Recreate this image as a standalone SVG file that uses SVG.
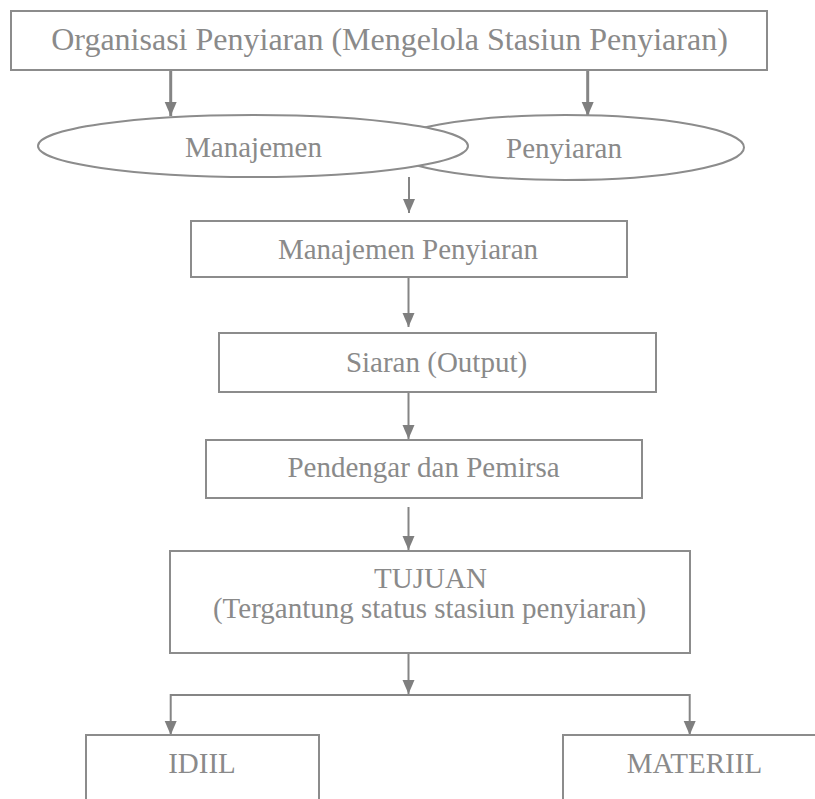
<svg xmlns="http://www.w3.org/2000/svg" width="815" height="799" viewBox="0 0 815 799">
<style>
.box{fill:#fff;stroke:#8c8c8c;stroke-width:2}
.ell{fill:#fff;stroke:#8c8c8c;stroke-width:2}
.t{font-family:"Liberation Serif","Times New Roman",serif;fill:#8a8a8a;text-anchor:middle;font-size:29px}
.c{stroke:#858585;stroke-width:2;fill:none}
</style>
<defs>
<marker id="ah" markerUnits="userSpaceOnUse" markerWidth="14" markerHeight="14" viewBox="0 0 14 14" refX="14" refY="7" orient="auto">
<path d="M0,1 L14,7 L0,13 Z" fill="#7f7f7f"/>
</marker>
</defs>
<rect width="815" height="799" fill="#fff"/>
<g id="connectors">
<line class="c" x1="170.7" y1="70" x2="170.7" y2="116" marker-end="url(#ah)" style="stroke-width:3"/>
<line class="c" x1="587.7" y1="70" x2="587.7" y2="116" marker-end="url(#ah)" style="stroke-width:3"/>
<line class="c" x1="409" y1="177" x2="409" y2="213" marker-end="url(#ah)"/>
<line class="c" x1="408.5" y1="273" x2="408.5" y2="327" marker-end="url(#ah)"/>
<line class="c" x1="408.5" y1="392" x2="408.5" y2="439" marker-end="url(#ah)"/>
<line class="c" x1="408.5" y1="507" x2="408.5" y2="550" marker-end="url(#ah)"/>
<line class="c" x1="408.5" y1="653" x2="408.5" y2="694" marker-end="url(#ah)"/>
<line class="c" x1="170.7" y1="695" x2="689.7" y2="695"/>
<line class="c" x1="170.7" y1="694" x2="170.7" y2="735" marker-end="url(#ah)"/>
<line class="c" x1="689.7" y1="694" x2="689.7" y2="735" marker-end="url(#ah)"/>
</g>
<g id="n-org">
<rect class="box" x="11" y="11" width="756" height="59"/>
<text class="t" x="389.5" y="50" style="font-size:32px">Organisasi Penyiaran (Mengelola Stasiun Penyiaran)</text>
</g>
<g id="n-penyiaran">
<ellipse class="ell" cx="565.5" cy="147.5" rx="178.5" ry="32.5"/>
<text class="t" x="564" y="158">Penyiaran</text>
</g>
<g id="n-manajemen">
<ellipse class="ell" cx="253" cy="146" rx="215" ry="31"/>
<text class="t" x="253.5" y="157">Manajemen</text>
</g>
<g id="n-manpen">
<rect class="box" x="191" y="221" width="436" height="56"/>
<text class="t" x="408" y="259">Manajemen Penyiaran</text>
</g>
<g id="n-siaran">
<rect class="box" x="219" y="333" width="437" height="59"/>
<text class="t" x="436.5" y="372">Siaran (Output)</text>
</g>
<g id="n-pendengar">
<rect class="box" x="206" y="440" width="436" height="58"/>
<text class="t" x="423.5" y="477">Pendengar dan Pemirsa</text>
</g>
<g id="n-tujuan">
<rect class="box" x="170" y="551" width="520" height="102"/>
<text class="t" x="430.5" y="588">TUJUAN</text>
<text class="t" x="429.5" y="618">(Tergantung status stasiun penyiaran)</text>
</g>
<g id="n-idiil">
<rect class="box" x="86" y="735" width="233" height="80"/>
<text class="t" x="202" y="773">IDIIL</text>
</g>
<g id="n-materiil">
<rect class="box" x="563" y="735" width="263" height="80"/>
<text class="t" x="694.5" y="773">MATERIIL</text>
</g>
</svg>
